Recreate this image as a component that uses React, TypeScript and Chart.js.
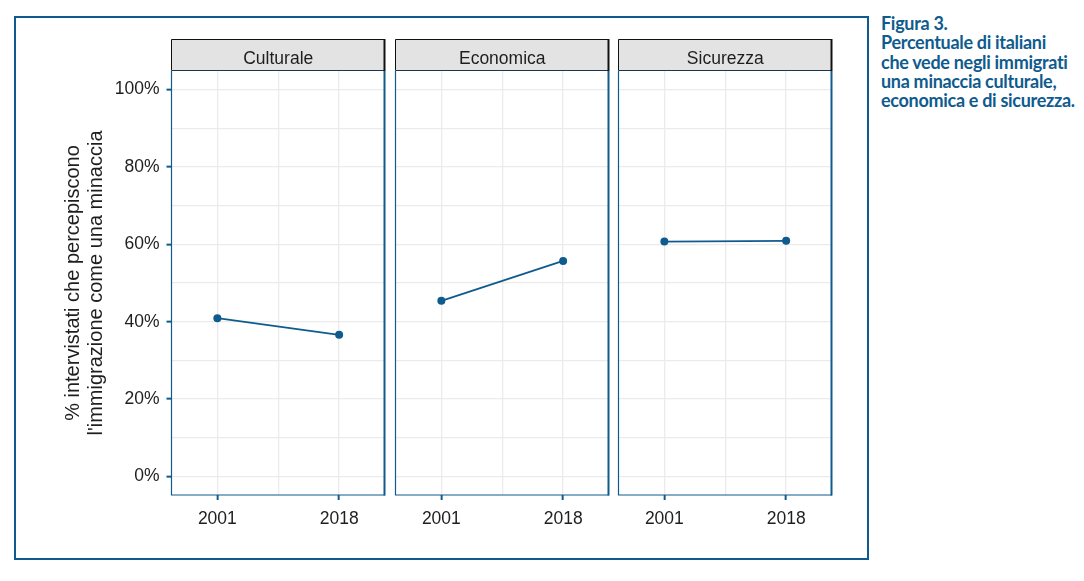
import React, { useEffect, useRef } from "react";
import { Chart, registerables } from "chart.js";
Chart.register(...registerables);

const facets = ["Culturale", "Economica", "Sicurezza"];
const years = [2001, 2018];
const culturale = [40.9, 36.6];
const economica = [45.4, 55.7];
const sicurezza = [60.7, 60.9];
const seriesByFacet = [culturale, economica, sicurezza];
const yGridValues = [0, 10, 20, 30, 40, 50, 60, 70, 80, 90, 100];
const xGridValues = [2001, 2009.5, 2018];
const yTitle = ["% intervistati che percepiscono", "l'immigrazione come una minaccia"];
const captionLines = [
  "Figura 3.",
  "Percentuale di italiani",
  "che vede negli immigrati",
  "una minaccia culturale,",
  "economica e di sicurezza.",
];

const BLUE = "#0f5b8e";
const GRID = "#ebebeb";
const TEXT = "#1e1e1e";
const FONT = "'Liberation Sans', Arial, sans-serif";

const PANEL_LEFTS = [171.5, 395.5, 618.5];
const PANEL_W = 213.5;
const PANEL_TOP = 71;
const PANEL_BOTTOM = 495;
const HEADER_TOP = 39;
const CANVAS_TOP = 30;
const XAXIS_H = 42;

function Facet({ index }: { index: number }) {
  const ref = useRef<HTMLCanvasElement | null>(null);
  const panelLeft = PANEL_LEFTS[index];
  const first = index === 0;
  const canvasLeft = first ? 20 : Math.floor(panelLeft) - 5;
  const canvasW = Math.ceil(panelLeft + PANEL_W) + 10 - canvasLeft;
  const canvasH = PANEL_BOTTOM + XAXIS_H - CANVAS_TOP;
  const yAxisW = first ? panelLeft - canvasLeft : 0;
  const padLeft = first ? 0 : panelLeft - canvasLeft;
  const padRight = canvasW - (panelLeft + PANEL_W - canvasLeft);

  useEffect(() => {
    const series = seriesByFacet[index];
    const framePlugin = {
      id: "facetFrame",
      afterDraw(chart: any) {
        const { ctx, chartArea } = chart;
        const { left, right, top, bottom } = chartArea;
        ctx.save();
        // panel border
        ctx.strokeStyle = BLUE;
        ctx.lineWidth = 1.2;
        ctx.beginPath();
        ctx.moveTo(left, top);
        ctx.lineTo(left, bottom);
        ctx.lineTo(right, bottom);
        ctx.stroke();
        ctx.lineWidth = 2;
        ctx.beginPath();
        ctx.moveTo(right - 0.5, top);
        ctx.lineTo(right - 0.5, bottom + 0.6);
        ctx.stroke();
        // header strip
        const hTop = HEADER_TOP - CANVAS_TOP;
        ctx.fillStyle = "#e3e3e3";
        ctx.fillRect(left, hTop, right - left, top - hTop);
        ctx.strokeStyle = "#111";
        ctx.lineWidth = 1;
        ctx.beginPath();
        ctx.moveTo(left, top - 0.5);
        ctx.lineTo(left, hTop + 0.5);
        ctx.lineTo(right, hTop + 0.5);
        ctx.stroke();
        ctx.strokeStyle = "#1a3550";
        ctx.beginPath();
        ctx.moveTo(left, top - 0.5);
        ctx.lineTo(right, top - 0.5);
        ctx.stroke();
        ctx.strokeStyle = "#111";
        ctx.lineWidth = 2;
        ctx.beginPath();
        ctx.moveTo(right - 0.5, hTop);
        ctx.lineTo(right - 0.5, top);
        ctx.stroke();
        ctx.fillStyle = TEXT;
        ctx.font = `17.5px ${FONT}`;
        ctx.textAlign = "center";
        ctx.textBaseline = "alphabetic";
        ctx.fillText(facets[index], (left + right) / 2, 64 - CANVAS_TOP);
        ctx.restore();
      },
    };

    const chart = new Chart(ref.current as HTMLCanvasElement, {
      type: "line",
      data: {
        datasets: [
          {
            data: years.map((yr, j) => ({ x: yr, y: series[j] })),
            borderColor: BLUE,
            backgroundColor: BLUE,
            borderWidth: 1.8,
            pointRadius: 4,
            pointBackgroundColor: BLUE,
            pointBorderWidth: 0,
          },
        ],
      },
      options: {
        animation: false,
        responsive: false,
        maintainAspectRatio: false,
        devicePixelRatio: 1,
        layout: { padding: { left: padLeft, right: padRight, top: PANEL_TOP - CANVAS_TOP, bottom: 0 } },
        plugins: { legend: { display: false }, tooltip: { enabled: false } },
        scales: {
          x: {
            type: "linear",
            min: 1994.6,
            max: 2024.4,
            afterBuildTicks: (s: any) => {
              s.ticks = xGridValues.map((v) => ({ value: v }));
            },
            afterFit: (s: any) => {
              s.height = XAXIS_H;
            },
            ticks: {
              autoSkip: false,
              maxRotation: 0,
              padding: 9,
              color: TEXT,
              font: { family: FONT, size: 17.5 },
              callback: (v: any) => (years.includes(Number(v)) ? String(v) : ""),
            },
            grid: {
              color: GRID,
              lineWidth: 1.3,
              tickLength: 5,
              tickWidth: 2,
              tickColor: (c: any) => (c.tick && years.includes(c.tick.value) ? BLUE : "rgba(0,0,0,0)"),
            },
            border: { display: false },
          },
          y: {
            type: "linear",
            min: -4.8,
            max: 104.8,
            afterBuildTicks: (s: any) => {
              s.ticks = yGridValues.map((v) => ({ value: v }));
            },
            afterFit: (s: any) => {
              s.width = yAxisW;
            },
            ticks: {
              display: first,
              autoSkip: false,
              padding: 7,
              color: TEXT,
              font: { family: FONT, size: 17.5 },
              callback: (v: any) => (Number(v) % 20 === 0 ? `${v}%` : ""),
            },
            grid: {
              color: GRID,
              lineWidth: 1.3,
              drawTicks: first,
              tickLength: 5,
              tickWidth: 2,
              tickColor: (c: any) => (c.tick && c.tick.value % 20 === 0 ? BLUE : "rgba(0,0,0,0)"),
            },
            border: { display: false },
            title: {
              display: first,
              text: yTitle,
              color: TEXT,
              font: { family: FONT, size: 20, lineHeight: 1.15 },
              padding: { top: 42, bottom: 0 },
            },
          },
        },
      } as any,
      plugins: [framePlugin],
    });
    return () => chart.destroy();
  }, [index]);

  return (
    <canvas
      ref={ref}
      width={canvasW}
      height={canvasH}
      style={{ position: "absolute", left: canvasLeft, top: CANVAS_TOP, width: canvasW, height: canvasH }}
    />
  );
}

export default function App() {
  return (
    <div style={{ position: "absolute", left: 0, top: 0, width: 1084, height: 581, background: "#fff" }}>
      <div
        style={{
          position: "absolute",
          left: 14,
          top: 16,
          width: 855,
          height: 544,
          boxSizing: "border-box",
          border: `2px solid ${BLUE}`,
        }}
      />
      {facets.map((_, i) => (
        <Facet key={i} index={i} />
      ))}
      <div
        style={{
          position: "absolute",
          left: 881,
          top: 14,
          fontFamily: "Lato, sans-serif",
          fontWeight: 700,
          fontSize: 18,
          lineHeight: "19.3px",
          color: BLUE,
          whiteSpace: "nowrap",
          letterSpacing: -0.3,
        }}
      >
        {captionLines.map((l, i) => (
          <div key={i}>{l}</div>
        ))}
      </div>
    </div>
  );
}
